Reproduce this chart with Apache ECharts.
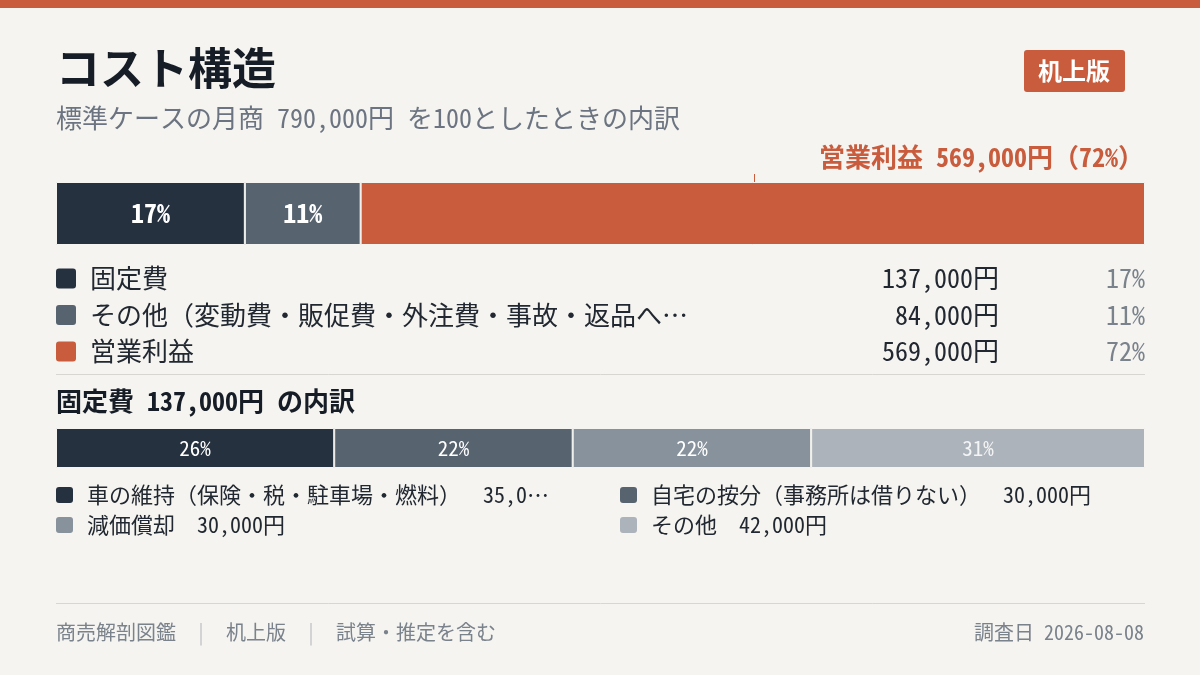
<!DOCTYPE html>
<html>
<head>
<meta charset="utf-8">
<script src="https://cdn.jsdelivr.net/npm/echarts@6/dist/echarts.min.js"></script>
<style>
  html, body { margin: 0; padding: 0; background: #f5f4f0; }
  #chart { width: 1200px; height: 675px; }
</style>
</head>
<body>
<div id="chart"></div>
<script>
// 月商の内訳
var total = 790000
var mainNames = ['固定費', 'その他（変動費・販促費・外注費・事故・返品へ…', '営業利益']
var mainValues = [137000, 84000, 569000]
var mainPct = [17, 11, 72]
var mainColors = ['#263140', '#57636f', '#c85c3d']

// 固定費の内訳
var fixedTotal = 137000
var subNames = ['車の維持（保険・税・駐車場・燃料）', '自宅の按分（事務所は借りない）', '減価償却', 'その他']
var subValueText = ['35,0…', '30,000円', '30,000円', '42,000円']
var subValues = [35000, 30000, 30000, 42000]
var subPct = [26, 22, 22, 31]
var subColors = ['#263140', '#57636f', '#87929c', '#adb3ba']

var FONT = '"Noto Sans Mono CJK JP", "Noto Sans CJK JP", sans-serif'
var chart = echarts.init(document.getElementById('chart'))

function fmt(v) {
  return v.toString().replace(/\B(?=(\d{3})+(?!\d))/g, ',')
}

function txt(x, y, s, size, color, weight, align) {
  return {
    type: 'text', x: x, y: y, silent: true,
    style: {
      text: s, fill: color,
      font: (weight || 'normal') + ' ' + size + 'px ' + FONT,
      textAlign: align || 'left', textVerticalAlign: 'middle'
    }
  }
}

var graphics = [
  { type: 'rect', shape: { x: 0, y: 0, width: 1200, height: 8 }, style: { fill: '#c85c3d' } },
  txt(56, 68, 'コスト構造', 44, '#161d26', 'bold'),
  txt(56, 118, '標準ケースの月商 ' + fmt(total) + '円 を100としたときの内訳', 26, '#6b7480'),
  { type: 'rect', shape: { x: 1024, y: 50, width: 101, height: 42, r: 3 }, style: { fill: '#c85c3d' } },
  txt(1074, 71, '机上版', 24, '#ffffff', 'bold', 'center'),
  txt(1144, 157, mainNames[2] + ' ' + fmt(mainValues[2]) + '円（' + mainPct[2] + '%）', 26, '#c85c3d', 'bold', 'right'),
  { type: 'line', shape: { x1: 754.5, y1: 174, x2: 754.5, y2: 182 }, style: { stroke: '#c85c3d', lineWidth: 1 } },
  { type: 'line', shape: { x1: 56, y1: 374.5, x2: 1145, y2: 374.5 }, style: { stroke: '#d8d6d1', lineWidth: 1 } },
  txt(56, 401, '固定費 ' + fmt(fixedTotal) + '円 の内訳', 26, '#161d26', 'bold'),
  { type: 'line', shape: { x1: 56, y1: 603.5, x2: 1145, y2: 603.5 }, style: { stroke: '#d8d6d1', lineWidth: 1 } },
  txt(56, 632, '商売解剖図鑑', 20, '#7a828c'),
  txt(201, 632, '|', 20, '#bfc3c8', 'normal', 'center'),
  txt(226, 632, '机上版', 20, '#7a828c'),
  txt(311, 632, '|', 20, '#bfc3c8', 'normal', 'center'),
  txt(336, 632, '試算・推定を含む', 20, '#7a828c'),
  txt(1144, 632, '調査日 2026-08-08', 20, '#7a828c', 'normal', 'right')
]

// 上段の凡例
mainNames.forEach(function (n, i) {
  var y = 278.5 + i * 36.5
  graphics.push({ type: 'rect', shape: { x: 56, y: y - 10, width: 20, height: 20, r: 3 }, style: { fill: mainColors[i] } })
  graphics.push(txt(90, y, n, 26, '#222831'))
  graphics.push(txt(999, y, fmt(mainValues[i]) + '円', 26, '#222831', 'normal', 'right'))
  graphics.push(txt(1145, y, mainPct[i] + '%', 26, '#7a828c', 'normal', 'right'))
})

// 下段の凡例
subNames.forEach(function (n, i) {
  var col = i % 2, row = Math.floor(i / 2)
  var x = 56 + col * 564, y = 495 + row * 30
  var sep = row == 0 ? '　 ' : '　'
  graphics.push({ type: 'rect', shape: { x: x, y: y - 8, width: 17, height: 16, r: 3 }, style: { fill: subColors[i] } })
  graphics.push(txt(x + 31, y, n + sep + subValueText[i], 22, '#222831'))
})

var series = []
mainValues.forEach(function (v, i) {
  series.push({
    type: 'bar', name: mainNames[i], stack: 'main', xAxisIndex: 0, yAxisIndex: 0,
    barWidth: '100%', data: [v],
    itemStyle: { color: mainColors[i], borderColor: '#f5f4f0', borderWidth: 1 },
    label: {
      show: i < 2, position: 'inside', formatter: mainPct[i] + '%',
      color: '#ffffff', fontSize: 26, fontWeight: 'bold', fontFamily: FONT
    },
    silent: true
  })
})
subValues.forEach(function (v, i) {
  series.push({
    type: 'bar', name: subNames[i], stack: 'sub', xAxisIndex: 1, yAxisIndex: 1,
    barWidth: '100%', data: [v],
    itemStyle: { color: subColors[i], borderColor: '#f5f4f0', borderWidth: 1 },
    label: {
      show: true, position: 'inside', formatter: subPct[i] + '%',
      color: i == 3 ? '#f3f4f5' : '#ffffff', fontSize: 21, fontWeight: 500, fontFamily: FONT
    },
    silent: true
  })
})

var option = {
  backgroundColor: '#f5f4f0',
  animation: false,
  grid: [
    { left: 56, width: 1089, top: 182, height: 63 },
    { left: 56, width: 1089, top: 428, height: 40 }
  ],
  xAxis: [
    { type: 'value', gridIndex: 0, min: 0, max: total, show: false },
    { type: 'value', gridIndex: 1, min: 0, max: fixedTotal, show: false }
  ],
  yAxis: [
    { type: 'category', gridIndex: 0, data: ['月商'], show: false },
    { type: 'category', gridIndex: 1, data: ['固定費'], show: false }
  ],
  series: series,
  graphic: graphics
}
chart.setOption(option)
</script>
</body>
</html>
